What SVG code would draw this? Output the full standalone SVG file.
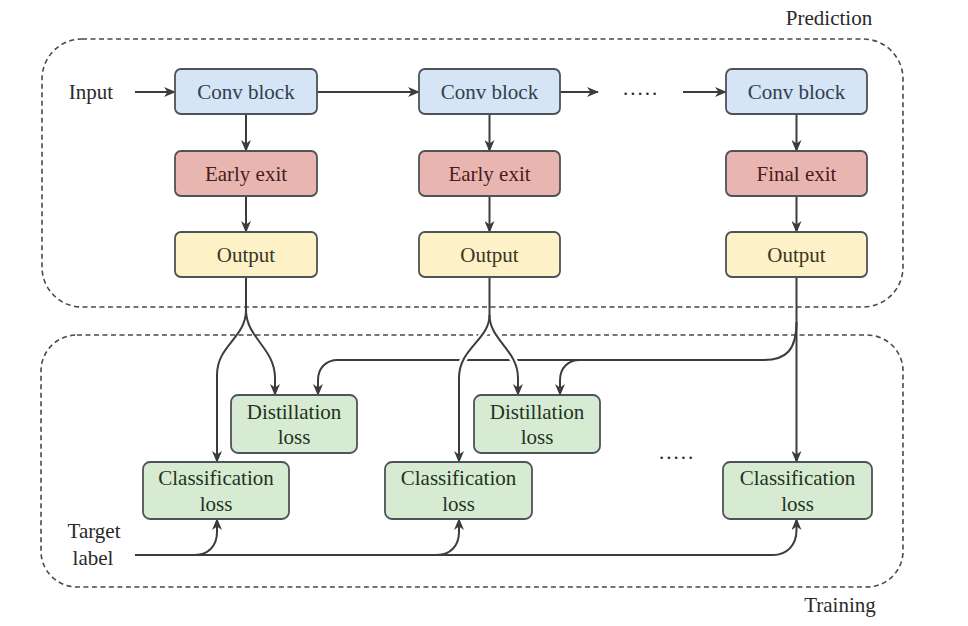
<svg xmlns="http://www.w3.org/2000/svg" width="968" height="626" viewBox="0 0 968 626">
<defs>
<marker id="arr" viewBox="0 0 12 10" refX="11" refY="5" markerWidth="12" markerHeight="10" markerUnits="userSpaceOnUse" orient="auto">
<path d="M0,0 L12,5 L0,10 L3.5,5 z" fill="#3c3c3c"/>
</marker>
<style>
text{font-family:'Liberation Serif','Noto Serif','FreeSerif','Times New Roman',Times,'DejaVu Serif',serif;font-size:21px;text-anchor:middle;dominant-baseline:central}
.box{stroke:#4e5358;stroke-width:1.8}
.conv{fill:#d5e5f5}
.exit{fill:#e9b5b1}
.out{fill:#fdf1c7}
.loss{fill:#d7ebd3}
.ct{fill:#2e4050}
.et{fill:#4a1c1c}
.ot{fill:#3a3624}
.lt{fill:#1f331f}
.dash{fill:none;stroke:#4a4a4a;stroke-width:1.6;stroke-dasharray:5 3.5}
.c{fill:none;stroke:#3c3c3c;stroke-width:2}
.halo{fill:none;stroke:#ffffff;stroke-width:7}
.lab{fill:#2a2a2a}
</style>
</defs>
<rect width="968" height="626" fill="#ffffff"/>

<g id="regions">
<rect class="dash" x="42" y="39" width="861" height="268" rx="40"/>
<rect class="dash" x="41" y="335" width="862" height="252" rx="36"/>
<text class="lab" x="829" y="18">Prediction</text>
<text class="lab" x="840" y="605">Training</text>
<text class="lab" x="91" y="92">Input</text>
<text class="lab" x="94" y="531">Target</text>
<text class="lab" x="93" y="558">label</text>
<text class="lab" x="641" y="88" letter-spacing="2">.....</text>
<text class="lab" x="677" y="452" letter-spacing="2">.....</text>
</g>

<g id="connectors">
<path class="c" d="M135,92 L175,92" marker-end="url(#arr)"/>
<path class="c" d="M317,92 L419,92" marker-end="url(#arr)"/>
<path class="c" d="M560,92 L598,92" marker-end="url(#arr)"/>
<path class="c" d="M683,92 L726,92" marker-end="url(#arr)"/>
<path class="c" d="M246,114 L246,151" marker-end="url(#arr)"/>
<path class="c" d="M246,196 L246,232" marker-end="url(#arr)"/>
<path class="c" d="M489.5,114 L489.5,151" marker-end="url(#arr)"/>
<path class="c" d="M489.5,196 L489.5,232" marker-end="url(#arr)"/>
<path class="c" d="M796.5,114 L796.5,151" marker-end="url(#arr)"/>
<path class="c" d="M796.5,196 L796.5,232" marker-end="url(#arr)"/>
<path class="c" d="M796.5,277 L796.5,462" marker-end="url(#arr)"/>
<path class="c" d="M796.5,322 C796.5,350 786,360 764,360 L338,360 C326,360 318,368 318,380 L318,395" marker-end="url(#arr)"/>
<path class="c" d="M580,360 C568,360 560,368 560,380 L560,395" marker-end="url(#arr)"/>
<path class="c" d="M246,277 L246,310 C246,338 217,345 217,375 L217,462" marker-end="url(#arr)"/>
<path class="c" d="M246,310 C246,338 275,348 275,378 L275,395" marker-end="url(#arr)"/>
<path class="halo" d="M489.5,318 C489.5,340 459,348 459,378"/>
<path class="halo" d="M489.5,318 C489.5,340 518,350 518,378"/>
<path class="c" d="M489.5,277 L489.5,315 C489.5,340 459,348 459,378 L459,462" marker-end="url(#arr)"/>
<path class="c" d="M489.5,315 C489.5,340 518,350 518,378 L518,395" marker-end="url(#arr)"/>
<path class="c" d="M135,555 L773,555 C787,555 796.5,545 796.5,530 L796.5,519" marker-end="url(#arr)"/>
<path class="c" d="M195,555 C208,555 217,546 217,532 L217,519" marker-end="url(#arr)"/>
<path class="c" d="M437,555 C450,555 459,546 459,532 L459,519" marker-end="url(#arr)"/>
</g>

<g id="conv1"><rect class="box conv" x="175" y="69" width="142" height="45" rx="6"/><text class="ct" x="246" y="92">Conv block</text></g>
<g id="conv2"><rect class="box conv" x="419" y="69" width="141" height="45" rx="6"/><text class="ct" x="489.5" y="92">Conv block</text></g>
<g id="conv3"><rect class="box conv" x="726" y="69" width="141" height="45" rx="6"/><text class="ct" x="796.5" y="92">Conv block</text></g>

<g id="exit1"><rect class="box exit" x="175" y="151" width="142" height="45" rx="6"/><text class="et" x="246" y="174">Early exit</text></g>
<g id="exit2"><rect class="box exit" x="419" y="151" width="141" height="45" rx="6"/><text class="et" x="489.5" y="174">Early exit</text></g>
<g id="exit3"><rect class="box exit" x="726" y="151" width="141" height="45" rx="6"/><text class="et" x="796.5" y="174">Final exit</text></g>

<g id="out1"><rect class="box out" x="175" y="232" width="142" height="45" rx="6"/><text class="ot" x="246" y="255">Output</text></g>
<g id="out2"><rect class="box out" x="419" y="232" width="141" height="45" rx="6"/><text class="ot" x="489.5" y="255">Output</text></g>
<g id="out3"><rect class="box out" x="726" y="232" width="141" height="45" rx="6"/><text class="ot" x="796.5" y="255">Output</text></g>

<g id="dist1"><rect class="box loss" x="231" y="395" width="126" height="58" rx="7"/><text class="lt" x="294" y="412">Distillation</text><text class="lt" x="294" y="437">loss</text></g>
<g id="dist2"><rect class="box loss" x="474" y="395" width="126" height="58" rx="7"/><text class="lt" x="537" y="412">Distillation</text><text class="lt" x="537" y="437">loss</text></g>

<g id="cls1"><rect class="box loss" x="143" y="462" width="146" height="57" rx="7"/><text class="lt" x="216" y="478">Classification</text><text class="lt" x="216" y="504">loss</text></g>
<g id="cls2"><rect class="box loss" x="385" y="462" width="147" height="57" rx="7"/><text class="lt" x="458.5" y="478">Classification</text><text class="lt" x="458.5" y="504">loss</text></g>
<g id="cls3"><rect class="box loss" x="723" y="462" width="149" height="57" rx="7"/><text class="lt" x="797.5" y="478">Classification</text><text class="lt" x="797.5" y="504">loss</text></g>
</svg>
